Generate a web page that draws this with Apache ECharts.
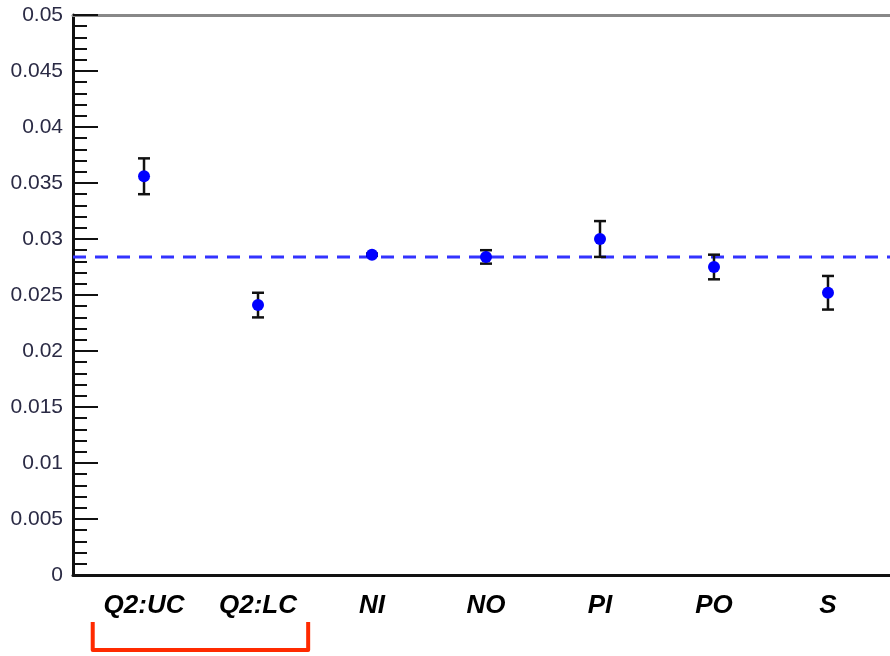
<!DOCTYPE html>
<html>
<head>
<meta charset="utf-8">
<script src="https://cdn.jsdelivr.net/npm/echarts@6/dist/echarts.min.js"></script>
<style>
  html, body { margin: 0; padding: 0; background: #fff; }
  #chart { width: 890px; height: 656px; }
</style>
</head>
<body>
<div id="chart"></div>
<script>
// data
var categories = ['Q2:UC', 'Q2:LC', 'NI', 'NO', 'PI', 'PO', 'S'];
var values = [0.0356, 0.0241, 0.0286, 0.0284, 0.0300, 0.0275, 0.0252];
var errors = [0.0016, 0.0011, 0.0001, 0.0006, 0.0016, 0.0011, 0.0015];
var meanValue = 0.0284;
var xRange = [-0.623, 6.544];

var chart = echarts.init(document.getElementById('chart'));

var points = values.map(function (v, i) { return [i, v]; });
var bars = values.map(function (v, i) { return [i, v - errors[i], v + errors[i]]; });
var meanLine = [[xRange[0], meanValue], [xRange[1], meanValue]];

function renderErr(params, api) {
  var lo = api.coord([api.value(0), api.value(1)]);
  var hi = api.coord([api.value(0), api.value(2)]);
  var w = 6;
  var st = { stroke: '#111', lineWidth: 2.5 };
  return {
    type: 'group',
    children: [
      { type: 'line', shape: { x1: lo[0], y1: lo[1], x2: hi[0], y2: hi[1] }, style: st },
      { type: 'line', shape: { x1: lo[0] - w, y1: lo[1], x2: lo[0] + w, y2: lo[1] }, style: st },
      { type: 'line', shape: { x1: hi[0] - w, y1: hi[1], x2: hi[0] + w, y2: hi[1] }, style: st }
    ]
  };
}

var option = {
  animation: false,
  grid: { left: 73, right: 0, top: 15, bottom: 81 },
  xAxis: [{
    type: 'value',
    min: xRange[0],
    max: xRange[1],
    axisLine: { onZero: false, lineStyle: { color: '#111', width: 3 } },
    axisTick: { show: false },
    splitLine: { show: false },
    axisLabel: {
      customValues: [0, 1, 2, 3, 4, 5, 6],
      formatter: function (v) { return categories[v]; },
      fontFamily: 'Liberation Sans',
      fontWeight: 'bold',
      fontStyle: 'italic',
      fontSize: 26,
      color: '#000',
      margin: 18
    }
  }, {
    type: 'value',
    position: 'top',
    min: xRange[0],
    max: xRange[1],
    axisLine: { show: true, onZero: false, lineStyle: { color: '#888', width: 3 } },
    axisTick: { show: false },
    axisLabel: { show: false },
    splitLine: { show: false }
  }],
  yAxis: {
    type: 'value',
    min: 0,
    max: 0.05,
    interval: 0.005,
    axisLine: { show: true, onZero: false, lineStyle: { color: '#111', width: 3 } },
    axisTick: { inside: true, length: 25, lineStyle: { color: '#111', width: 2 } },
    minorTick: { show: true, splitNumber: 5, length: 14, lineStyle: { color: '#111', width: 2 } },
    splitLine: { show: false },
    axisLabel: {
      formatter: function (v) { return String(+v.toFixed(3)); },
      fontFamily: 'Liberation Sans',
      fontSize: 21,
      color: '#2a2a44',
      margin: 10
    }
  },
  series: [{
    type: 'line',
    data: meanLine,
    symbol: 'none',
    lineStyle: { color: '#3333ff', width: 3, type: [13, 9] },
    z: 2
  }, {
    type: 'custom',
    renderItem: renderErr,
    data: bars,
    encode: { x: 0, y: [1, 2] },
    z: 3
  }, {
    type: 'scatter',
    data: points,
    symbolSize: 12,
    itemStyle: { color: '#0000ff', opacity: 1 },
    z: 4
  }]
};

chart.setOption(option);

// red bracket under the first two categories
var xl = chart.convertToPixel({ xAxisIndex: 0 }, -0.45);
var xr = chart.convertToPixel({ xAxisIndex: 0 }, 1.44);
chart.setOption({
  graphic: [{
    type: 'polyline',
    shape: { points: [[xl, 622], [xl, 650], [xr, 650], [xr, 622]] },
    style: { stroke: '#ff2a00', lineWidth: 4, fill: null, lineJoin: 'round' }
  }]
});
</script>
</body>
</html>
